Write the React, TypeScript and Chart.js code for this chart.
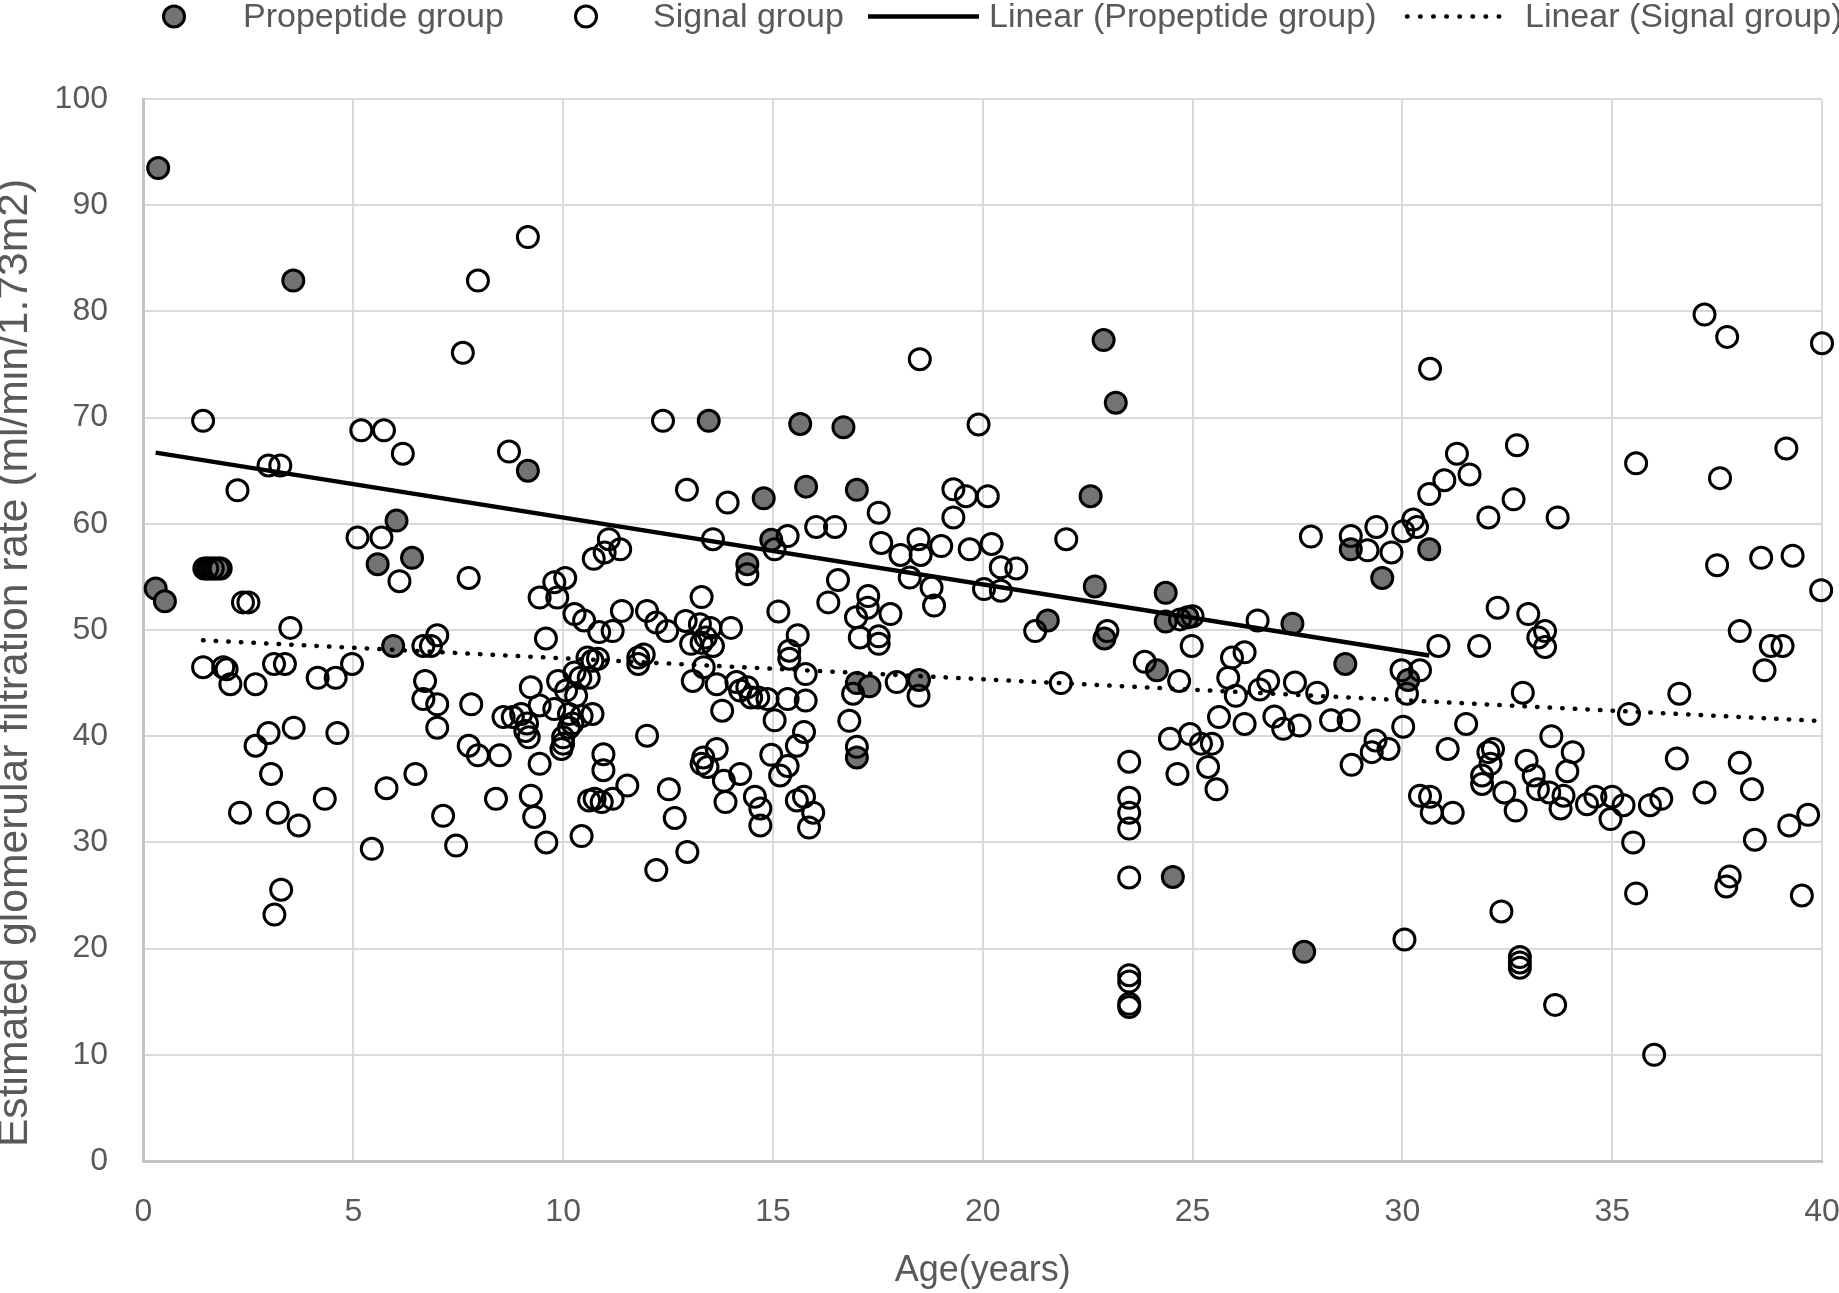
import React, { useEffect, useRef } from 'react';
import { Chart, registerables } from 'chart.js';

Chart.register(...registerables);

const W = 1839;
const H = 1293;

const SANS = "'Liberation Sans', Arial, sans-serif";
const TEXT_COLOR = '#595959';

const xTickValues = [0, 5, 10, 15, 20, 25, 30, 35, 40];
const yTickValues = [0, 10, 20, 30, 40, 50, 60, 70, 80, 90, 100];

const xTitle = 'Age(years)';
const yTitle = 'Estimated glomerular filtration rate (ml/min/1.73m2)';

const seriesLabels = ['Propeptide group', 'Signal group', 'Linear (Propeptide group)', 'Linear (Signal group)'];

// [age, eGFR]
const propeptidePoints: [number, number][] = [
  [0.35, 93.5], [0.29, 53.9], [0.51, 52.7], [1.45, 55.8], [1.58, 55.8], [1.71, 55.8], [1.84, 55.8], [3.57, 82.9],
  [9.16, 65.0], [6.03, 60.3], [5.58, 56.2], [6.4, 56.8], [5.95, 48.5],
  [13.47, 69.7], [14.78, 62.4], [15.65, 69.4], [16.68, 69.1], [15.79, 63.5], [17.0, 63.2], [14.96, 58.5], [14.39, 56.2],
  [17.0, 45.0], [17.3, 44.7], [17.0, 38.0], [18.48, 45.3],
  [21.55, 50.9], [22.57, 62.6], [22.88, 77.3], [23.17, 71.4], [22.67, 54.1], [22.9, 49.2],
  [24.36, 53.5], [24.36, 50.8], [24.88, 51.2], [24.15, 46.2], [24.53, 26.75],
  [27.38, 50.6], [27.66, 19.7], [28.64, 46.8], [28.77, 57.6], [29.52, 54.9], [30.64, 57.6], [30.14, 45.3],
];

const signalPoints: [number, number][] = [
  // 0-5
  [1.42, 69.7], [2.24, 63.15], [2.98, 65.5], [3.26, 65.5], [2.37, 52.6], [2.5, 52.6], [3.5, 50.2],
  [1.52, 55.8], [1.65, 55.8], [1.78, 55.8],
  [1.42, 46.5], [1.9, 46.5], [1.98, 46.3], [2.07, 44.9], [2.67, 44.9], [3.11, 46.8], [3.37, 46.8], [4.15, 45.5], [4.58, 45.5], [4.97, 46.8],
  [3.58, 40.8], [2.98, 40.3], [2.67, 39.1], [4.62, 40.3], [3.04, 36.45], [4.32, 34.1],
  [2.3, 32.8], [3.2, 32.8], [3.7, 31.6], [3.28, 25.55], [3.12, 23.2],
  // 5-10
  [5.19, 68.8], [5.73, 68.8], [6.18, 66.6], [8.71, 66.8], [9.16, 87.0], [7.97, 82.9], [7.61, 76.1],
  [5.1, 58.7], [5.67, 58.7], [6.1, 54.6], [7.75, 54.9],
  [6.67, 48.5], [6.85, 48.5], [7.0, 49.5], [6.71, 45.2], [6.67, 43.5], [7.0, 43.0], [7.0, 40.8], [7.81, 43.0],
  [5.79, 35.1], [6.48, 36.45], [7.75, 39.1], [7.97, 38.2], [8.49, 38.2], [9.23, 34.4], [9.44, 37.4], [8.4, 34.1],
  [7.14, 32.5], [9.31, 32.4], [5.44, 29.4], [7.45, 29.7], [9.6, 30.0],
  [9.59, 49.2], [10.05, 54.9], [9.79, 54.5], [9.44, 53.05], [9.86, 53.05],
  [10.27, 51.5], [10.5, 50.9], [10.86, 49.8], [11.18, 49.9], [11.4, 51.8],
  [10.58, 47.4], [10.7, 47.1], [10.83, 47.3], [10.27, 46.0], [10.41, 45.5], [10.61, 45.5],
  [9.88, 45.2], [10.07, 44.3], [10.31, 43.8], [9.23, 44.6], [9.44, 42.9],
  [9.79, 42.55], [10.14, 42.1], [10.44, 41.9], [10.7, 42.1],
  [8.8, 41.8], [9.0, 42.1], [9.14, 41.2], [9.1, 40.5], [8.58, 41.8],
  [9.18, 39.9], [10.0, 39.9], [10.0, 39.3], [9.96, 38.8], [10.14, 40.8], [10.22, 41.2],
  [10.96, 38.3], [10.96, 36.8], [11.53, 35.35], [11.18, 34.1], [10.75, 34.1], [10.62, 33.95], [10.92, 33.8], [10.44, 30.6],
  // 11-13.5
  [11.09, 58.55], [11.36, 57.6], [10.99, 57.3], [10.73, 56.7], [12.95, 63.2], [12.38, 69.7],
  [12.0, 51.8], [12.22, 50.7], [12.48, 49.9], [12.92, 50.85], [13.05, 48.7], [13.3, 48.8], [13.26, 50.55], [13.3, 53.1],
  [11.79, 47.4], [11.92, 47.7], [11.79, 46.8], [13.09, 45.2],
  [12.52, 35.0], [12.0, 40.05], [12.66, 32.3], [12.96, 29.1], [12.22, 27.4], [13.34, 38.0], [13.3, 37.4],
  // 13.5-27
  [13.92, 62.0], [17.52, 61.05], [19.3, 63.25], [19.6, 62.6], [20.12, 62.6], [19.3, 60.6], [21.99, 58.55],
  [13.57, 58.55], [15.35, 58.85], [15.04, 57.6], [16.03, 59.7], [16.48, 59.7], [17.58, 58.2], [18.04, 57.07],
  [18.47, 58.55], [18.52, 57.07], [19.01, 57.9], [19.69, 57.6], [20.21, 58.1], [20.43, 55.9], [20.8, 55.8],
  [18.26, 54.94], [18.78, 54.0], [18.84, 52.3], [20.03, 53.85], [20.43, 53.7], [14.39, 55.25],
  [16.55, 54.7], [16.32, 52.6], [17.27, 53.2], [17.26, 52.1], [16.98, 51.2], [17.8, 51.5], [17.07, 49.3],
  [17.52, 49.4], [17.52, 48.7], [15.13, 51.75], [15.59, 49.5], [15.39, 48.05], [15.39, 47.3], [14.0, 50.2],
  [13.51, 50.2], [13.4, 49.3], [13.57, 48.5], [15.78, 45.85], [13.35, 46.5], [13.66, 44.9], [14.13, 45.1],
  [14.22, 44.3], [14.39, 44.6], [14.48, 43.65], [14.65, 43.65], [14.87, 43.5], [15.35, 43.5], [15.78, 43.35],
  [13.79, 42.4], [15.04, 41.5], [16.91, 44.0], [17.95, 45.1], [18.47, 43.8], [16.82, 41.45], [17.0, 39.0],
  [15.74, 40.4], [15.57, 39.1], [15.35, 37.2], [15.17, 36.3], [14.96, 38.25], [13.66, 38.8], [13.44, 37.1],
  [13.83, 35.8], [14.22, 36.45], [13.87, 33.8], [14.57, 34.3], [14.7, 33.2], [15.74, 34.3], [15.57, 33.95],
  [15.96, 32.8], [14.7, 31.6], [15.86, 31.4],
  [18.5, 75.5], [19.9, 69.35],
  [21.86, 45.0], [21.25, 49.9], [22.97, 49.9], [23.86, 47.0], [24.68, 45.2], [24.98, 48.5], [26.55, 50.9],
  [24.7, 51.0], [25.0, 51.3],
  [25.94, 47.4], [26.24, 47.9], [25.85, 45.5], [26.03, 43.8], [26.6, 44.4], [26.8, 45.2], [26.95, 41.85],
  [25.63, 41.8], [26.24, 41.15],
  [24.46, 39.75], [24.94, 40.2], [25.2, 39.3], [25.46, 39.3], [24.64, 36.45], [25.37, 37.1], [25.57, 35.0],
  [23.49, 37.6], [23.49, 34.2], [23.49, 32.8], [23.49, 31.3], [23.49, 26.7], [23.49, 17.5], [23.49, 16.9],
  [23.49, 14.8], [23.49, 14.5],
  // 27-40
  [27.44, 45.05], [27.97, 44.1], [27.16, 40.7], [27.55, 41.0], [28.3, 41.5], [28.72, 41.5], [30.02, 40.9], [31.52, 41.15],
  [29.36, 39.6], [29.67, 38.8], [29.27, 38.5], [28.79, 37.3], [31.08, 38.8],
  [32.16, 38.8], [32.05, 38.5], [32.1, 37.4], [31.9, 36.3], [31.9, 35.5],
  [33.55, 40.0], [34.06, 38.5], [33.93, 36.7],
  [32.96, 37.7], [33.13, 36.3], [33.23, 35.0], [33.5, 34.7], [33.84, 34.4], [32.43, 34.7],
  [30.42, 34.4], [30.66, 34.3], [30.7, 32.8], [31.2, 32.8], [32.7, 33.0], [33.77, 33.2],
  [34.4, 33.6], [34.6, 34.3], [35.0, 34.3], [35.27, 33.5], [34.96, 32.2], [35.9, 33.5], [36.17, 34.1],
  [37.2, 34.7], [38.33, 35.0], [38.04, 37.5], [36.54, 37.9], [39.67, 32.6], [39.22, 31.6],
  [35.5, 30.0], [35.57, 25.2], [36.0, 10.0], [38.4, 30.25], [37.8, 26.8], [37.72, 25.85], [39.52, 25.0],
  [32.36, 23.5], [30.05, 20.85], [32.8, 19.2], [32.8, 18.7], [32.8, 18.2], [33.64, 14.7],
  [27.82, 58.8], [28.77, 58.85], [29.17, 57.5], [29.38, 59.7], [29.74, 57.3], [30.02, 59.3], [30.26, 60.4], [30.35, 59.7],
  [30.66, 74.6], [31.3, 66.6], [32.73, 67.4], [35.57, 65.7], [39.15, 67.1], [31.6, 64.65], [31.0, 64.1],
  [30.64, 62.8], [32.65, 62.3], [32.05, 60.6], [33.7, 60.6], [37.57, 64.3],
  [37.2, 79.7], [37.74, 77.6], [40.0, 77.0],
  [37.5, 56.1], [38.55, 56.8], [39.3, 57.0], [39.98, 53.75], [38.04, 49.9], [38.78, 48.5], [39.06, 48.5],
  [38.63, 46.2], [36.6, 44.0], [35.4, 42.1],
  [32.27, 52.1], [33.0, 51.5], [33.4, 49.9], [33.24, 49.3], [33.4, 48.4], [30.86, 48.5], [31.83, 48.5],
  [29.98, 46.2], [30.42, 46.2], [30.11, 44.0], [32.87, 44.1],
];

// linear trend lines, endpoints
const propeptideTrend: [number, number][] = [[0.29, 66.7], [30.64, 47.6]];
const signalTrend: [number, number][] = [[1.42, 49.03], [40.0, 41.42]];

const toXY = (arr: [number, number][]) => arr.map(([x, y]) => ({ x, y }));

const POINT_R = 10.5;
const POINT_BW = 3;
const FILL_GRAY = '#737373';

const legendPlugin = {
  id: 'excelLegend',
  afterDraw(chart: any) {
    const ctx = chart.ctx as CanvasRenderingContext2D;
    const cy = 16.5;
    ctx.save();
    ctx.lineWidth = POINT_BW;
    ctx.strokeStyle = '#000';
    ctx.beginPath();
    ctx.arc(174, cy, POINT_R, 0, Math.PI * 2);
    ctx.fillStyle = FILL_GRAY;
    ctx.fill();
    ctx.stroke();
    ctx.beginPath();
    ctx.arc(586, cy, POINT_R, 0, Math.PI * 2);
    ctx.stroke();
    ctx.lineWidth = 4.5;
    ctx.beginPath();
    ctx.moveTo(868, cy);
    ctx.lineTo(979, cy);
    ctx.stroke();
    ctx.lineCap = 'round';
    ctx.setLineDash([0.5, 12.6]);
    ctx.beginPath();
    ctx.moveTo(1407, cy);
    ctx.lineTo(1511, cy);
    ctx.stroke();
    ctx.setLineDash([]);
    ctx.fillStyle = TEXT_COLOR;
    ctx.font = `34px ${SANS}`;
    ctx.textAlign = 'left';
    ctx.textBaseline = 'middle';
    const xs = [243, 653, 989, 1525];
    seriesLabels.forEach((t, i) => ctx.fillText(t, xs[i], cy + 1));
    ctx.restore();
  },
};

const yTitlePlugin = {
  id: 'yTitle',
  afterDraw(chart: any) {
    const ctx = chart.ctx as CanvasRenderingContext2D;
    ctx.save();
    ctx.translate(15, 663);
    ctx.rotate(-Math.PI / 2);
    ctx.fillStyle = TEXT_COLOR;
    ctx.font = `42.6px ${SANS}`;
    ctx.textAlign = 'center';
    ctx.textBaseline = 'middle';
    ctx.fillText(yTitle, 0, 0);
    ctx.restore();
  },
};

export default function App() {
  const ref = useRef<HTMLCanvasElement>(null);
  useEffect(() => {
    document.body.style.margin = '0';
    const canvas = ref.current;
    if (!canvas) return;
    const chart = new Chart(canvas, {
      type: 'scatter',
      data: {
        datasets: [
          {
            label: seriesLabels[2],
            type: 'line',
            data: toXY(propeptideTrend),
            borderColor: '#000',
            borderWidth: 4.5,
            pointRadius: 0,
            fill: false,
            order: 0,
          } as any,
          {
            label: seriesLabels[3],
            type: 'line',
            data: toXY(signalTrend),
            borderColor: '#000',
            borderWidth: 4.5,
            borderDash: [0.5, 12.1],
            borderCapStyle: 'round',
            pointRadius: 0,
            fill: false,
            order: 0,
          } as any,
          {
            label: seriesLabels[1],
            data: toXY(signalPoints),
            backgroundColor: 'rgba(0,0,0,0)',
            borderColor: '#000',
            borderWidth: POINT_BW,
            pointRadius: POINT_R,
            pointHoverRadius: POINT_R,
            clip: false,
            order: 1,
          } as any,
          {
            label: seriesLabels[0],
            data: toXY(propeptidePoints),
            backgroundColor: FILL_GRAY,
            borderColor: '#000',
            borderWidth: POINT_BW,
            pointRadius: POINT_R,
            pointHoverRadius: POINT_R,
            clip: false,
            order: 2,
          } as any,
        ],
      },
      options: {
        animation: false,
        responsive: false,
        events: [],
        layout: { padding: { top: 99, right: 17, left: 0, bottom: 0 } },
        plugins: {
          legend: { display: false },
          tooltip: { enabled: false },
          title: { display: false },
        },
        scales: {
          x: {
            type: 'linear',
            position: 'bottom',
            min: 0,
            max: 40,
            afterBuildTicks: (s: any) => {
              s.ticks = xTickValues.map((v) => ({ value: v }));
            },
            afterFit: (s: any) => {
              s.height = 132;
              s.paddingLeft = 0;
              s.paddingRight = 0;
            },
            grid: { color: '#d9d9d9', lineWidth: 2, drawTicks: false },
            border: { display: true, color: '#c4c4c4', width: 3 },
            ticks: {
              padding: 32,
              color: TEXT_COLOR,
              autoSkip: false,
              maxRotation: 0,
              font: { family: SANS, size: 32 },
            },
            title: {
              display: true,
              text: xTitle,
              color: TEXT_COLOR,
              font: { family: SANS, size: 36, lineHeight: 1.2 },
              padding: { top: 0, bottom: 0 },
            },
          },
          y: {
            type: 'linear',
            min: 0,
            max: 100,
            afterBuildTicks: (s: any) => {
              s.ticks = yTickValues.map((v) => ({ value: v }));
            },
            afterFit: (s: any) => {
              s.width = 143.5;
              s.paddingTop = 0;
              s.paddingBottom = 0;
            },
            grid: { color: '#d9d9d9', lineWidth: 2, drawTicks: false },
            border: { display: true, color: '#c4c4c4', width: 3 },
            ticks: {
              padding: 35.5,
              color: TEXT_COLOR,
              autoSkip: false,
              font: { family: SANS, size: 32 },
            },
            title: { display: false },
          },
        },
      } as any,
      plugins: [legendPlugin, yTitlePlugin],
    });
    return () => chart.destroy();
  }, []);
  return (
    <div style={{ width: W, height: H }}>
      <canvas ref={ref} width={W} height={H} style={{ display: 'block', width: W, height: H }} />
    </div>
  );
}
